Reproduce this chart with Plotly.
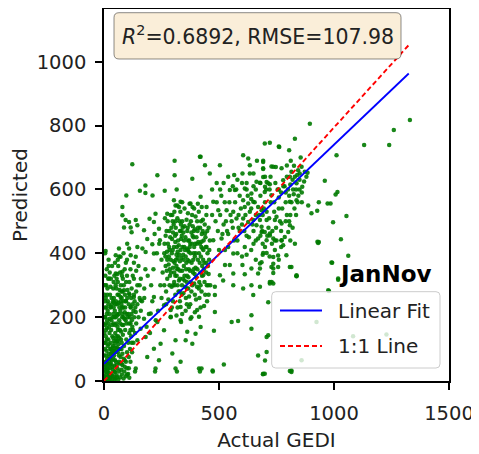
import plotly.graph_objects as go

# ---------------- data ----------------
band_pts = [(2,5),(5,12),(8,3),(10,20),(12,8),(15,30),(18,15),(20,4),(22,25),(25,40),(28,10),(30,55),(32,22),(35,6),(38,35),(40,70),(42,15),(45,48),(48,28),(50,8),(52,60),(55,18),(58,40),(60,90),(62,5),(65,30),(68,55),(70,12),(72,75),(75,35),(78,20),(80,50),(85,8),(88,30),(90,65),(95,15),(100,40),(105,22),(110,10),(3,45),(6,60),(9,80),(4,100),(7,120),(11,95),(14,70),(16,110),(19,130),(21,85),(24,150),(27,100),(29,120),(31,160),(33,90),(36,140),(39,110),(41,180),(44,125),(46,95),(49,150),(51,200),(53,130),(56,105),(59,170),(61,140),(63,115),(66,190),(69,160),(71,220),(74,130),(76,100),(79,175),(82,145),(84,230),(87,110),(89,195),(92,160),(94,250),(97,130),(99,210),(2,150),(4,175),(6,200),(8,140),(10,230),(13,165),(17,250),(23,210),(26,270),(34,240),(37,200),(43,260),(47,220),(54,290),(57,240),(64,270),(67,230),(73,300),(77,260),(81,280),(86,300),(91,270),(96,310),(102,285),(108,240),(112,200),(115,160),(118,260),(120,120),(30,320),(15,290),(8,260),(45,330),(60,310),(70,340),(25,5),(35,15),(45,3),(55,50),(65,80),(12,40),(18,50),(28,70),(38,85),(48,65),
            (95,60),(100,90),(105,120),(110,150),(115,180),(120,210),(125,240),(130,270),(98,180),(103,200),(108,75),(113,100),(118,140),(123,170),(128,220),(133,250),(92,230),(85,250),(79,200),(75,240),(65,210),(55,180),(50,240),(40,210),(32,190),(20,180),(12,210),(5,230),(3,270),(10,300),(18,320),(25,340),(40,290),(55,320),(62,360),(78,330),(90,350),(100,330),(110,310),(120,290),(130,320),(140,280),(145,240),(150,200),(155,260),(140,180),(135,150),(128,120),(122,90),(115,60),(108,40),(100,20),(90,45),(80,85),(70,100),(60,125),(50,105),(40,135),(30,100),(20,115),(10,60),(5,30),(1,15),(16,5),(26,18),(36,45),(46,30),(56,12),(66,60),(76,55),(86,70)]

origin_extra_pts = [(3,35),(7,50),(11,28),(14,55),(17,38),(21,62),(24,75),(27,52),(31,85),(34,65),(37,105),(41,95),(44,80),(47,118),(51,92),(54,140),(57,125),(61,160),(64,100),(67,135),(71,180),(74,155),(77,120),(81,210),(84,175),(1,80),(2,120),(3,200),(5,250),(7,180),(9,160),(12,130),(14,190),(16,220),(19,240),(22,170),(25,195),(28,230),(33,260),(36,175),(39,250),(42,230),(45,200),(48,175),(52,250),(56,210),(59,270),(63,245),(68,285),(72,250),(76,280),(80,230),(85,200),(90,215),(96,250),(101,260),(106,210),(111,270),(116,230),(121,190),(126,160),(131,200),(136,230),(6,330),(12,350),(20,380),(35,360),(48,370),(66,390),(85,400),(95,370),(115,350),(125,330),(140,345),(155,300),(160,220),(165,250),(4,300),(14,270),(28,295),(42,310),(58,335),(82,320)]

left_sparse_pts = [(22,321),(51,337),(80,342),(51,300),(87,284),(109,274),(130,263),(72,263),(43,247),(29,232),(116,232),(138,216),(58,205),(94,190),(109,180),(145,300),(160,320),(175,290),(180,350),(150,360),(130,370),(100,380),(60,380),(20,360),(5,400),(7,407),(65,415),(51,394),(72,389),(116,394),(138,389),(101,430),(109,415),(145,420),(167,415),(181,404),(210,428),(217,399),(188,445),(243,441),(174,472),(239,477),(87,481),(116,481),(120,466),(145,488),(94,504),(109,498),(138,504),(198,508),(217,498),(80,545),(80,519),(224,524),(275,524),(97,581),(211,581),(156,596),(180,589),(180,612),(264,596),(232,644),(307,644),(384,633),(123,679),(307,690),(420,702),(316,600),(420,577),(376,556),(304,566),(333,561),(311,550),(326,545)]

mid_pts = [(265,510),(272,470),(278,430),(282,390),(286,350),(290,520),(293,480),(296,445),(299,410),(302,375),(305,340),(308,300),(311,500),(314,460),(317,420),(320,385),(323,350),(326,315),(329,280),(332,530),(335,490),(338,455),(341,420),(344,395),(347,360),(350,330),(353,295),(356,260),(359,505),(362,470),(365,440),(368,405),(371,375),(374,345),(377,310),(380,280),(383,520),(386,485),(389,450),(392,420),(395,390),(398,355),(401,325),(404,295),(407,470),(410,435),(413,400),(416,370),(419,340),(422,500),(425,460),(428,415),(431,380),(434,350),(437,310),(440,270),(300,250),(320,230),(340,210),(360,240),(380,200),(400,255),(420,230),(290,200),(270,280),(275,320),(268,360),(262,400),(285,300),(310,270),(330,250),(345,275),(355,390),(365,410),(375,430),(385,455),(395,475),(405,500),(315,395),(325,425),(335,445),(345,465),(350,485),(360,415),(370,440),(380,465),(390,400),(300,465),(310,435),(320,405),(330,375),(340,345),(350,315),(360,290),(370,265),(290,380),(300,355),(310,330),(320,300),(330,470),(340,500),(350,540),(365,525),(385,545),(398,515),(412,530),(425,545),(445,520),(455,480),(460,440),(450,400),(445,370),(455,335),(462,300),(448,250),(240,430),(250,380),(255,340),(245,300),(250,260),(235,220),(225,190),(215,350),(205,300),(230,400),(220,460),(210,250),(195,210),(185,170),(200,150),(175,260),(190,330),
           (268,455),(274,405),(281,365),(287,330),(294,295),(297,520),(303,490),(309,455),(313,380),(318,350),(324,280),(328,500),(333,410),(337,385),(343,320),(348,440),(352,410),(357,350),(363,380),(367,325),(372,490),(376,400),(381,370),(387,340),(392,305),(396,430),(402,450),(408,380),(414,310),(418,480),(423,420),(427,360),(433,440),(438,490),(443,420),(447,300),(452,360),(458,410),(280,255),(295,230),(315,205),(335,185),(355,220),(375,240),(395,215),(415,260),(435,235),(455,270),(262,300),(270,240),(284,470),(306,530),(319,550),(340,560),(372,555),(392,540),(408,555),(430,505)]

mid_extra_pts = [(263,430),(267,390),(273,345),(277,500),(283,420),(288,450),(291,340),(295,400),(298,500),(304,420),(307,370),(312,480),(316,330),(319,510),(322,440),(327,395),(331,345),(334,470),(339,300),(342,480),(346,380),(349,420),(354,450),(358,370),(361,330),(364,480),(369,350),(373,420),(378,500),(382,430),(384,300),(388,380),(391,470),(394,335),(399,400),(403,430),(406,350),(409,480),(412,290),(417,430),(421,390),(426,330),(429,470),(432,410),(436,370),(441,450),(444,340),(449,470),(453,300),(457,380),(300,300),(330,320),(360,310),(390,350),(420,300),(275,380),(285,410),(305,310),(315,360),(338,270),(366,290),(395,270),(424,280)]

upper_pts = [(699,744),(721,746),(760,734),(805,723),(417,702),(605,707),(627,697),(439,676),(504,676),(634,676),(692,690),(692,666),(736,671),(772,666),(566,645),(602,650),(634,650),(663,624),(678,621),(714,619),(724,640),(779,629),(808,640),(547,598),(569,598),(612,603),(641,587),(699,592),(728,582),(475,561),(605,566),(627,556),(649,561),(612,545),(670,545),(634,530),(685,535),(707,530),(446,545),(497,535),(533,535),(562,530),(576,509),(605,509),(627,498),(649,504),(678,504),(707,504),(743,504),(750,514),(772,493),(663,488),(685,483),(699,467),(721,462),(736,446),(772,441),(786,451),(801,467),(808,488),(837,566),(808,561),(439,462),(424,436),(446,420),(475,441),(511,446),(526,410),(562,399),(612,420),(670,446),(707,441),(743,410),(793,394),
             (560,480),(590,470),(620,455),(650,470),(680,455),(700,420),(720,390),(760,380),(540,460),(520,490),(580,440),(600,390),(640,410),(660,380),(690,395),(750,440),(770,470),(790,500),(760,540),(740,560),(720,600),(700,560),(680,580),(650,610),(620,620),(590,580),(570,560),(550,520),(530,500),(510,580),(490,620),(470,600),(460,650),(650,650),(760,600),(790,560),(810,520),(820,480),(830,430),(660,520),(640,540),(690,520),(715,480),(600,490),(585,520),(545,560),(625,580),(705,600),(745,620),(665,690)]

upper_extra_pts = [(485,500),(495,470),(505,520),(515,460),(525,560),(535,470),(555,500),(565,440),(575,600),(585,480),(595,540),(610,470),(615,520),(630,450),(645,490),(655,560),(660,440),(675,520),(688,470),(695,540),(710,455),(718,510),(725,560),(732,470),(740,530),(748,480),(755,600),(765,500),(775,540),(785,610),(795,520),(805,500),(815,560),(822,600),(828,540),(835,520),(842,560),(850,600),(860,560),(700,640),(680,620),(660,600),(640,570),(620,600),(600,620),(580,630),(560,610),(540,640),(520,620),(505,600),(490,560),(470,520),(500,410),(540,420),(580,400),(620,395),(650,430),(690,430),(730,430),(770,420),(810,440)]

line_pts = [(844,660),(859,671),(851,650),(873,655),(837,619),(862,608),(885,652),(830,640),(820,630),(810,615),(800,600),(790,590),(850,630),(815,655),(795,640),(780,610),(770,590),(760,575),(835,600),(825,585),(860,590),(870,625),(845,580),(805,580),(826,674),(812,690),(795,675),(855,700),(880,640),(840,645),(692,686),(692,664),(728,672),(747,670),(692,639),(707,623),(721,616),(700,608)]

right_pts = [(1131,739),(1240,739),(1011,707),(960,627),(1015,592),(1007,584),(888,550),(934,560),(972,556),(985,556),(902,525),(927,533),(1054,517),(996,497),(928,436),(934,435),(1030,444),(1062,392),(992,370),(837,328),(1018,321),(978,282),(924,185),(1083,140),(1228,146),(859,65),(1330,817),(1260,786),(895,806),(830,759),(762,733)]

low_pts = [(685,467),(721,456),(743,440),(772,440),(779,425),(931,432),(692,401),(707,401),(736,388),(757,393),(736,367),(815,357),(736,352),(736,338),(837,329),(685,372),(678,352),(729,310),(721,305),(989,371),(1018,317),(975,284),(714,247),(707,138),(707,91),(700,64),(692,23),(815,28),
           (526,363),(547,363),(602,363),(641,352),(678,368),(728,357),(757,357),(808,357),(837,331),(431,331),(504,331),(518,315),(562,337),(612,334),(670,337),(562,300),(605,290),(641,300),(678,295),(721,310),(736,305),(482,295),(482,269),(649,269),(482,216),(555,185),(583,188),(641,206),(641,164),(478,157),(714,143),(670,80),(424,39),(472,33),(521,52),(699,23),(815,33),
           (224,39),(138,39),(311,39),(413,39),(355,128),(311,128),(297,86),(246,117),(261,159),(217,101),(181,138),(159,164),(145,128),(188,75),(239,65),(333,60),(362,154),(398,148),(420,169),(384,117),(174,195),(203,211),(232,185),(290,201),(333,190),(376,195),(413,201),(159,253),(217,263),(261,237),(290,222),(333,232),(369,232),(405,222),(135,30),(222,30),(317,30),(417,30),(473,30),(691,21),(808,31)]

fit_x = [0, 1325]
fit_y = [54, 963]
one_x = [0, 1325]
one_y = [0, 1052]

x_ticks = [0, 500, 1000, 1500]
y_ticks = [0, 200, 400, 600, 800, 1000]
stats_text = "<i>R</i><sup>2</sup>=0.6892, RMSE=107.98"
period_label = "JanNov"
legend_names = ["Linear Fit", "1:1 Line"]

# ---------------- figure ----------------
all_pts = (band_pts + origin_extra_pts + left_sparse_pts + mid_pts + mid_extra_pts +
           upper_pts + upper_extra_pts + line_pts + right_pts + low_pts)
px = [p[0] for p in all_pts]
py = [p[1] for p in all_pts]

FONT = "DejaVu Sans"
TXT = "#222"
fig = go.Figure()
fig.add_trace(go.Scatter(x=px, y=py, mode="markers", showlegend=False,
                         marker=dict(size=4.5, color="#007a00", opacity=0.9, line=dict(width=0))))
fig.add_trace(go.Scatter(x=fit_x, y=fit_y, mode="lines", name=legend_names[0], showlegend=False,
                         line=dict(color="blue", width=1.8)))
fig.add_trace(go.Scatter(x=one_x, y=one_y, mode="lines", name=legend_names[1], showlegend=False,
                         line=dict(color="red", width=1.9, dash="5px,3px")))

axis_common = dict(showgrid=False, zeroline=False, showline=True, linecolor="black", linewidth=1.5,
                   mirror=True, ticks="outside", ticklen=7, tickwidth=1.5, tickcolor="black",
                   automargin=False)
fig.update_xaxes(range=[0, 1500], tickvals=x_ticks, ticktext=[str(v) for v in x_ticks],
                 ticklabelstandoff=7, tickfont=dict(family=FONT, size=19.5, color=TXT),
                 title=dict(text="Actual GEDI", font=dict(family=FONT, size=20, color=TXT), standoff=9),
                 **axis_common)
fig.update_yaxes(range=[0, 1165], tickvals=y_ticks, ticktext=[str(v) for v in y_ticks],
                 ticklabelstandoff=5, tickfont=dict(family=FONT, size=19.5, color=TXT),
                 title=dict(text="Predicted", font=dict(family=FONT, size=20, color=TXT), standoff=8),
                 **axis_common)

# The page body adds an 8px offset; plot area is placed at window px x 104..449, y 9..381.
OX, OY = 8, 8
PL, PR, PT, PB = 104, 449, 9, 381
W, H = float(PR - PL), float(PB - PT)


def rounded_path(L, R, T, B, r=5):
    rx, ry = r / W, r / H
    return (f"M{L+rx},{B} L{R-rx},{B} Q{R},{B} {R},{B+ry} L{R},{T-ry} Q{R},{T} {R-rx},{T} "
            f"L{L+rx},{T} Q{L},{T} {L},{T-ry} L{L},{B+ry} Q{L},{B} {L+rx},{B} Z")


def pxx(v):
    return (v - PL) / W


def pxy(v):
    return (PB - v) / H


# stats box
L, R, T, B = pxx(114), pxx(401), pxy(12.7), pxy(59)
fig.add_shape(type="path", path=rounded_path(L, R, T, B), xref="paper", yref="paper", layer="above",
              fillcolor="#faeed9", line=dict(color="rgba(0,0,0,0.45)", width=1))
fig.add_annotation(x=(L + R) / 2, y=(T + B) / 2, xref="paper", yref="paper", text=stats_text,
                   showarrow=False, font=dict(family=FONT, size=20.5, color=TXT),
                   xanchor="center", yanchor="middle")

# period label
fig.add_annotation(x=pxx(385.5), y=pxy(274.5), xref="paper", yref="paper", text=f"<b>{period_label}</b>",
                   showarrow=False, font=dict(family=FONT, size=23, color="black"),
                   xanchor="center", yanchor="middle")

# legend (box, samples, labels)
lL, lR, lT, lB = pxx(271.7), pxx(440), pxy(291.7), pxy(368)
fig.add_shape(type="path", path=rounded_path(lL, lR, lT, lB, 4), xref="paper", yref="paper", layer="above",
              fillcolor="rgba(255,255,255,0.8)", line=dict(color="#cccccc", width=1))
rows = [(310.5, dict(color="blue", width=1.8)), (346, dict(color="red", width=1.9, dash="5px,3px"))]
for name, (yy, ln) in zip(legend_names, rows):
    fig.add_shape(type="line", xref="paper", yref="paper", x0=pxx(280), x1=pxx(322),
                  y0=pxy(yy), y1=pxy(yy), line=ln, layer="above")
    fig.add_annotation(x=pxx(336), y=pxy(yy), xref="paper", yref="paper", text=name, showarrow=False,
                       font=dict(family=FONT, size=20, color=TXT), xanchor="left", yanchor="middle")

fig.update_layout(width=479 - OX, height=454 - OY,
                  margin=dict(l=PL - OX, r=(479 - OX) - (PR - OX), t=PT - OY, b=(454 - OY) - (PB - OY)),
                  plot_bgcolor="white", paper_bgcolor="white", showlegend=False)
fig.write_html("out.html")
